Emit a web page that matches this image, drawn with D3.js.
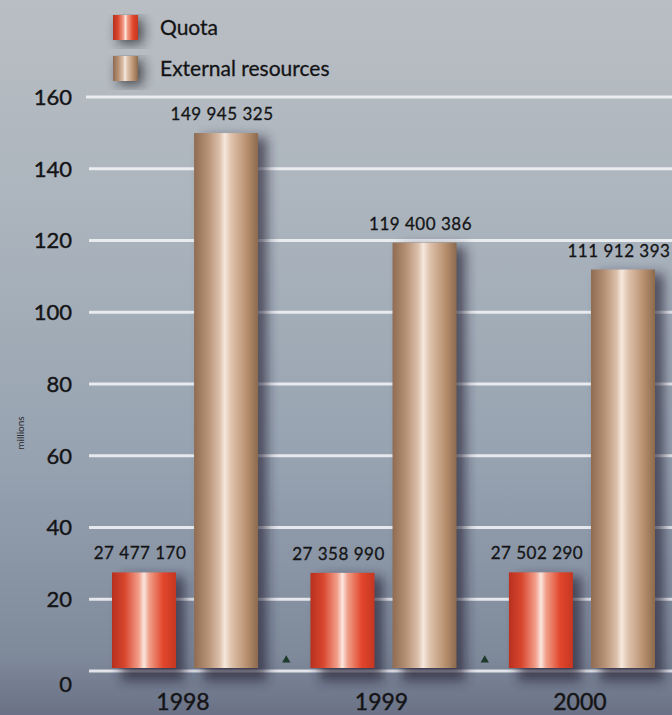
<!DOCTYPE html>
<html><head><meta charset="utf-8">
<script src="https://cdn.jsdelivr.net/npm/d3@7"></script>
<style>html,body{margin:0;padding:0;background:#a3acb6;} svg{display:block}</style>
</head><body>
<script>
// Budget by year (values in currency units; axis in millions)
const years = ["1998", "1999", "2000"];
const quota = [27477170, 27358990, 27502290];
const external = [149945325, 119400386, 111912393];
const seriesNames = ["Quota", "External resources"];
const seriesKeys = ["quota", "external"];
const yTicks = [0, 20, 40, 60, 80, 100, 120, 140, 160];

const W = 672, H = 715;
const font = "Lato, 'Open Sans', sans-serif";
const ink = "#141416";
const fmt = v => d3.format(",")(v).replace(/,/g, " ");

const svg = d3.select("body").append("svg").attr("width", W).attr("height", H);
const defs = svg.append("defs");

// Backdrop: grey-blue vertical wash
const bg = defs.append("linearGradient").attr("id", "bg").attr("x1", 0).attr("y1", 0).attr("x2", 0).attr("y2", 1);
[[0, "#b9bec3"], [0.3, "#abb4bd"], [0.65, "#96a2b0"], [0.92, "#7e899a"], [1, "#6a7186"]]
  .forEach(([o, c]) => bg.append("stop").attr("offset", o).attr("stop-color", c));
svg.append("rect").attr("width", W).attr("height", H).attr("fill", "url(#bg)");

// Cylinder shading for each series
const shades = {
  quota: [[0, "#b8301e"], [0.2, "#d8462e"], [0.42, "#f2a08c"], [0.5, "#fbe6de"], [0.58, "#f0a08a"], [0.8, "#e2462c"], [1, "#c63620"]],
  external: [[0, "#8f6c52"], [0.2, "#b38e72"], [0.4, "#dcc0aa"], [0.48, "#f6e8de"], [0.58, "#dfc3ad"], [0.82, "#b8906f"], [1, "#8c6a4e"]]
};
seriesKeys.forEach(k => {
  const g = defs.append("linearGradient").attr("id", "g-" + k).attr("x1", 0).attr("x2", 1).attr("y1", 0).attr("y2", 0);
  shades[k].forEach(([o, c]) => g.append("stop").attr("offset", o).attr("stop-color", c));
});
defs.append("filter").attr("id", "soft").attr("x", "-50%").attr("y", "-20%").attr("width", "200%").attr("height", "140%")
  .append("feGaussianBlur").attr("stdDeviation", 6);

// Scales
const y = d3.scaleLinear().domain([0, 160]).range([671, 97]);
const x = d3.scaleBand().domain(years).range([112, 655]).paddingInner(0.264).paddingOuter(0);
const xs = d3.scaleBand().domain(seriesKeys).range([0, x.bandwidth()]).paddingInner(0.22);

// Gridlines
svg.append("g").selectAll("line").data(yTicks).join("line")
  .attr("x1", d => d === 160 ? 86 : 89).attr("x2", W)
  .attr("y1", d => y(d)).attr("y2", d => y(d))
  .attr("stroke", "#f4f6f8").attr("stroke-opacity", 0.85).attr("stroke-width", 3);

// Tick labels
const yAxis = d3.axisLeft(y).tickValues(yTicks).tickSize(0).tickPadding(0).tickFormat(d3.format("d"));
const ya = svg.append("g").attr("transform", "translate(72,0)").call(yAxis);
ya.select(".domain").remove();
ya.selectAll("text").attr("font-family", font).attr("font-size", 22).attr("fill", ink)
  .attr("stroke", ink).attr("stroke-width", 0.4)
  .attr("dy", d => d === 0 ? "0.95em" : "0.34em");

svg.append("text").attr("transform", "translate(24,433) rotate(-90)")
  .attr("text-anchor", "middle").attr("font-family", font).attr("font-size", 10).attr("fill", "#2a2a30")
  .text("millions");

// Bars
const rows = years.map((yr, i) => ({ year: yr, quota: quota[i], external: external[i] }));
const groups = svg.append("g").selectAll("g").data(rows).join("g")
  .attr("transform", d => `translate(${x(d.year)},0)`);

const cells = groups.selectAll("g").data(d => seriesKeys.map(k => ({ key: k, value: d[k] }))).join("g");

// soft shadows cast to the right and at the foot of each bar
cells.append("rect")
  .attr("x", d => xs(d.key) + 9).attr("width", xs.bandwidth())
  .attr("y", d => y(d.value / 1e6) + 4).attr("height", d => y(0) - y(d.value / 1e6) + 6)
  .attr("fill", "#241f32").attr("opacity", 0.65).attr("filter", "url(#soft)");

cells.append("rect")
  .attr("x", d => xs(d.key)).attr("width", xs.bandwidth())
  .attr("y", d => y(d.value / 1e6)).attr("height", d => y(0) - y(d.value / 1e6) - 3)
  .attr("fill", d => `url(#g-${d.key})`);

cells.append("text")
  .attr("x", d => xs(d.key) + xs.bandwidth() / 2 - 4)
  .attr("y", d => y(d.value / 1e6) - 13)
  .attr("text-anchor", "middle").attr("font-family", font).attr("font-size", 17).attr("letter-spacing", 0.5)
  .attr("fill", ink).attr("stroke", ink).attr("stroke-width", 0.3)
  .text(d => fmt(d.value));

// Small markers between year groups
const mids = years.slice(1).map((yr, i) => (x(years[i]) + x.bandwidth() + x(yr)) / 2);
svg.append("g").selectAll("path").data(mids).join("path")
  .attr("d", d3.symbol(d3.symbolTriangle, 30))
  .attr("transform", d => `translate(${d + 2},${y(0) - 11})`)
  .attr("fill", "#1d3a2c");

// Year labels
svg.append("g").selectAll("text").data(years).join("text")
  .attr("x", d => x(d) + x.bandwidth() / 2 - 2).attr("y", 710)
  .attr("text-anchor", "middle").attr("font-family", font).attr("font-size", 23)
  .attr("fill", ink).attr("stroke", ink).attr("stroke-width", 0.4)
  .text(d => d);

// Legend
const leg = svg.append("g").selectAll("g").data(seriesKeys).join("g")
  .attr("transform", (d, i) => `translate(113,${15 + i * 41})`);
leg.append("rect").attr("x", 5).attr("y", 4).attr("width", 25).attr("height", 25)
  .attr("fill", "#1e1a24").attr("opacity", 0.7).attr("filter", "url(#soft)");
leg.append("rect").attr("width", 25).attr("height", 25).attr("fill", d => `url(#g-${d})`);
leg.append("text").attr("x", 47).attr("y", 13).attr("dy", "0.35em")
  .attr("font-family", font).attr("font-size", 21)
  .attr("fill", ink).attr("stroke", ink).attr("stroke-width", 0.3)
  .text((d, i) => seriesNames[i]);
</script>
</body></html>
